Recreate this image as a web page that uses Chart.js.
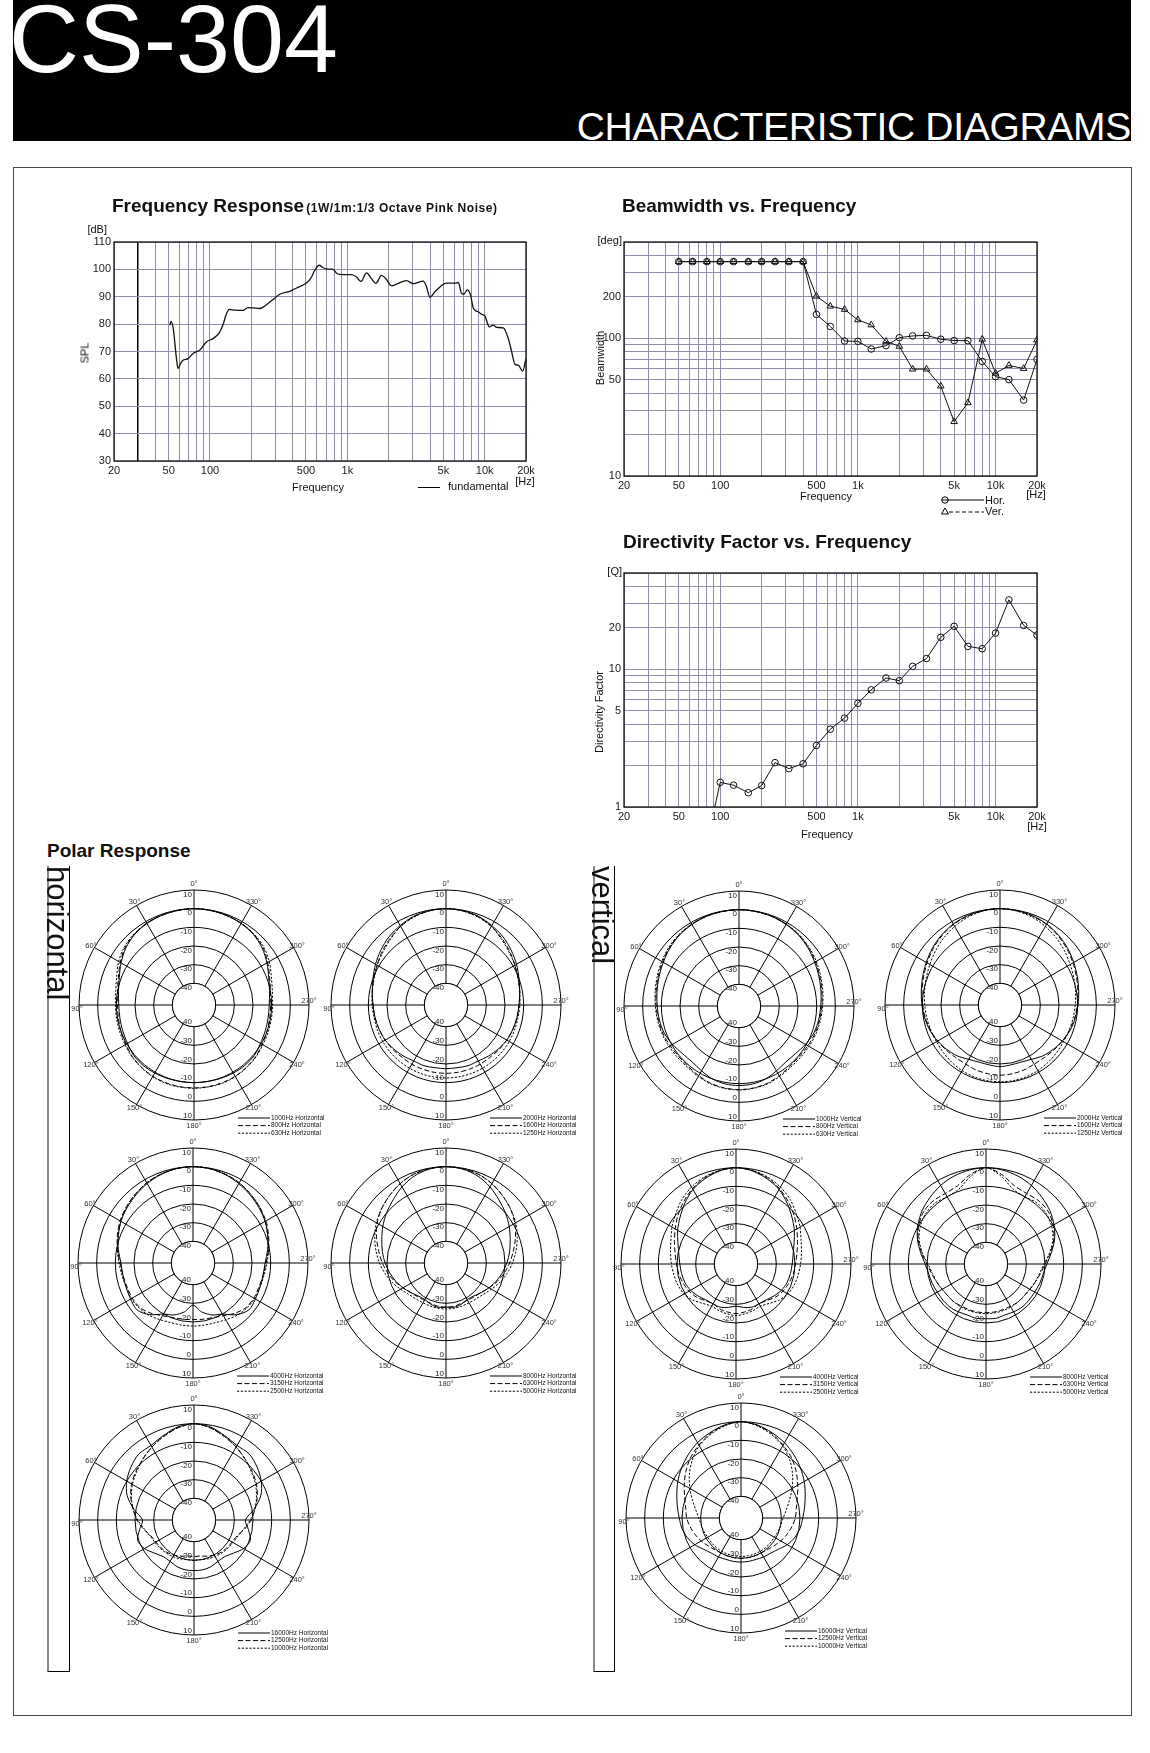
<!DOCTYPE html>
<html>
<head>
<meta charset="utf-8">
<title>CS-304 Characteristic Diagrams</title>
<script src="https://cdn.jsdelivr.net/npm/chart.js@4.4.1/dist/chart.umd.min.js"></script>
<style>
  html,body{margin:0;padding:0;background:#fff;}
  #page{position:relative;width:1150px;height:1753px;overflow:hidden;background:#fff;font-family:"Liberation Sans",Arial,Helvetica,sans-serif;color:#111;}
  #page canvas{position:absolute;}
  .t{position:absolute;white-space:nowrap;line-height:1;}
  #header{position:absolute;left:13px;top:0;width:1118px;height:141px;background:#000;overflow:hidden;}
  #frame{position:absolute;left:13px;top:167px;width:1119px;height:1549px;box-sizing:border-box;border:1.5px solid #4a4a4a;}
  .sidebox{position:absolute;box-sizing:border-box;border-left:2px solid #8a8a8a;border-right:1.3px solid #000;border-bottom:1.3px solid #000;}
</style>
</head>
<body>
<div id="page">
  <div id="header">
    <div class="t" style="left:-4px;top:-10px;font-size:97px;color:#fff;">CS-304</div>
    <div class="t" style="right:0px;top:107px;font-size:39px;color:#fff;letter-spacing:-0.3px;">CHARACTERISTIC DIAGRAMS</div>
  </div>
  <div id="frame"></div>
  <div class="sidebox" style="left:47px;top:866px;width:23px;height:806px;"></div>
  <div class="sidebox" style="left:593px;top:866px;width:22px;height:806px;"></div>
  <div style="position:absolute;left:418px;top:486.5px;width:22px;border-top:1.2px solid #000;"></div>
  <svg style="position:absolute;left:938px;top:494px;" width="50" height="24">
    <circle cx="7" cy="6" r="3.2" fill="none" stroke="#000" stroke-width="1"/>
    <line x1="3.8" y1="6" x2="46" y2="6" stroke="#000" stroke-width="1"/>
    <polygon points="7,14 10.5,20 3.5,20" fill="none" stroke="#000" stroke-width="1"/>
    <line x1="11" y1="18" x2="46" y2="18" stroke="#000" stroke-width="1" stroke-dasharray="4,2.5"/>
  </svg>
</div>
<script>
// ---------------- data ----------------
const FREQ_GRID = [20,30,40,50,60,70,80,90,100,200,300,400,500,600,700,800,900,1000,2000,3000,4000,5000,6000,7000,8000,9000,10000,20000];
const FREQ_LABEL_VALUES = [20,50,100,500,1000,5000,10000,20000];
const FREQ_LABEL_TEXTS = ['20','50','100','500','1k','5k','10k','20k'];
const SPL_TICKS = [30,40,50,60,70,80,90,100,110];
const BW_TICKS = [10,20,30,40,50,60,70,80,90,100,200,300,400,500];
const BW_LABEL_VALUES = [10,50,100,200];
const Q_TICKS = [1,2,3,4,5,6,7,8,9,10,20,30,40,50];
const Q_LABEL_VALUES = [1,5,10,20];

// Frequency response (fundamental)
const frFreq = [51,52,54,57,58.5,61,63.6,69.3,75.3,84.2,94.2,105,116,124,132,139,151,174,189,206,230,258,288,322,381,427,504,540,580,624,667,726,780,844,933,1074,1168,1256,1380,1500,1614,1774,1908,2099,2282,2698,3020,3572,3776,3991,4345,4727,5226,6080,6430,6800,7066,7474,7904,8260,8990,9510,10050,10810,11560,12220,13670,14860,15730,16630,17590,18920,20000];
const frSpl = [79.6,81,78.4,67.4,63.8,65.6,66.8,67.4,69.3,70.5,73.5,74.7,76.6,79.6,83.9,85.4,85.1,85,86,85.9,85.7,87.1,89,90.9,92,93.2,95,96.6,99.7,101.5,100.6,100.1,100.1,98.4,98.1,98.1,97.2,95.6,98.7,96.6,94.9,97.8,96.6,94,94.6,95.9,94.8,95.7,93.6,89.8,91.8,93.6,95,95,95.2,91.2,91,92.5,90.5,85.9,84.5,83.6,82.9,79,79.6,78.8,78.6,74.7,69.9,65.3,65,62.8,67.4];

// Beamwidth (deg)
const bwFreq = [50,63,80,100,125,160,200,250,315,400,500,630,800,1000,1250,1600,2000,2500,3150,4000,5000,6300,8000,10000,12500,16000,20000];
const bwHor = [360,360,360,360,360,360,360,360,360,360,149,122,95.5,95,83.6,88.4,101,104,105,98.4,96.2,96,67.9,52.7,50.1,35.6,70.2];
const bwVer = [360,360,360,360,360,360,360,360,360,360,202,171,162,136,125,95,87.4,59.7,59.7,45,24.8,34,98.4,55.7,63.5,60.3,97.2];

// Directivity factor Q
const dfFreq = [80,100,125,160,200,250,315,400,500,630,800,1000,1250,1600,2000,2500,3150,4000,5000,6300,8000,10000,12500,16000,20000];
const dfQ = [0.55,1.51,1.44,1.27,1.43,2.10,1.90,2.06,2.80,3.67,4.42,5.66,7.09,8.64,8.26,10.5,11.97,17.06,20.5,14.66,14.1,18.3,31.9,20.8,17.7];

// Polar response: dB at 0,10,...,350 degrees
const polarAngles = [0,10,20,30,40,50,60,70,80,90,100,110,120,130,140,150,160,170,180,190,200,210,220,230,240,250,260,270,280,290,300,310,320,330,340,350];
const RING_TICKS = [-40,-30,-20,-10,0,10];

const h1000 = [0,-0.2,-0.6,-1.2,-2.2,-4,-6.5,-9,-10.5,-11.3,-11.3,-11,-10.5,-9.5,-9.3,-9.5,-9.8,-10,-10,-10,-9.8,-9.5,-9.3,-9.5,-10.5,-11,-11.3,-11.3,-10.5,-9,-6.5,-4,-2.2,-1.2,-0.6,-0.2];
const h800  = [0,-0.2,-0.5,-1,-2,-3.5,-6,-8.5,-10,-10.5,-10.5,-10,-9.5,-8.5,-8,-7.5,-7.3,-7.2,-7.2,-7.2,-7.3,-7.5,-8,-8.5,-9.5,-10,-10.5,-10.5,-10,-8.5,-6,-3.5,-2,-1,-0.5,-0.2];
const h630  = [0,-0.2,-0.5,-1,-1.8,-3,-5,-7.5,-9,-9.5,-9.5,-9.3,-9,-8.3,-7.8,-7.3,-7,-7,-7,-7,-7,-7.3,-7.8,-8.3,-9,-9.3,-9.5,-9.5,-9,-7.5,-5,-3,-1.8,-1,-0.5,-0.2];
const h2000 = [0,-0.3,-1,-2.5,-4,-6,-8,-10,-11.5,-12.5,-13,-13.5,-14,-15,-16,-17,-17,-17.5,-17.5,-17.5,-17,-17,-16,-15,-14,-13.5,-13,-12.5,-11.5,-10,-8,-6,-4,-2.5,-1,-0.3];
const h1600 = [0,-0.4,-1.3,-3,-5,-7,-9,-10.5,-11.5,-12.5,-13,-13.5,-14,-14.5,-15,-15,-15,-15,-15,-15,-15,-15,-15,-14.5,-14,-13.5,-13,-12.5,-11.5,-10.5,-9,-7,-5,-3,-1.3,-0.4];
const h1250 = [0,-0.4,-1.5,-3,-5.5,-7.5,-9,-10.5,-11.5,-12,-12.5,-12.5,-12.5,-12.5,-12.5,-12.5,-12.5,-12.5,-12.5,-12.5,-12.5,-12.5,-12.5,-12.5,-12.5,-12.5,-12.5,-12,-11.5,-10.5,-9,-7.5,-5.5,-3,-1.5,-0.4];
const h4000 = [0,-0.3,-1.2,-2.5,-4,-5.5,-7,-9,-11,-13,-13.5,-13.5,-13,-12.5,-15.5,-20,-22,-25,-29,-25,-22,-20,-15.5,-12.5,-13,-13.5,-13.5,-13,-11,-9,-7,-5.5,-4,-2.5,-1.2,-0.3];
const h3150 = [0,-0.3,-1,-2,-3.5,-5,-6.5,-8.5,-10.5,-12.5,-13.5,-14,-14,-14.5,-16.5,-19,-20.5,-21,-21.3,-21,-20.5,-19,-16.5,-14.5,-14,-14,-13.5,-12.5,-10.5,-8.5,-6.5,-5,-3.5,-2,-1,-0.3];
const h2500 = [0,-0.3,-1,-2,-3.5,-5,-7,-9,-10.5,-12,-13,-13.5,-13.5,-14,-15,-16.5,-17.5,-17.8,-17.8,-17.8,-17.5,-16.5,-15,-14,-13.5,-13.5,-13,-12,-10.5,-9,-7,-5,-3.5,-2,-1,-0.3];
const h8000 = [0,-0.5,-2,-4.5,-7.5,-10,-12.5,-15,-17,-19,-21,-23,-25,-27,-28.5,-29,-28,-27.5,-28,-27.5,-28,-29,-28.5,-27,-25,-23,-21,-19,-17,-15,-12.5,-10,-7.5,-4.5,-2,-0.5];
const h6300 = [0,-0.3,-1,-2.5,-4.5,-6.5,-9,-12,-15,-17.5,-20,-22.5,-25,-27,-28,-28.5,-28.5,-28,-28,-28,-28.5,-28.5,-28,-27,-25,-22.5,-20,-17.5,-15,-12,-9,-6.5,-4.5,-2.5,-1,-0.3];
const h5000 = [0,-0.3,-1,-2.5,-4.5,-6.5,-8.5,-11,-13.5,-16,-18.5,-21,-23.5,-25.5,-26.5,-27,-27,-27,-27,-27,-27,-27,-26.5,-25.5,-23.5,-21,-18.5,-16,-13.5,-11,-8.5,-6.5,-4.5,-2.5,-1,-0.3];
const h16000 = [0,-1,-3.5,-5.5,-5.5,-7.5,-10,-13.5,-19,-24,-22,-19.5,-21,-24,-26,-26,-25,-24.5,-24.5,-24.5,-25,-26,-26,-24,-21,-19.5,-22,-24,-19,-13.5,-10,-7.5,-5.5,-5.5,-3.5,-1];
const h12500 = [0,-1.5,-4,-6.5,-9,-11,-13,-15.5,-18.5,-21,-24,-27,-28,-28.5,-29,-30,-31,-32,-32,-32,-31,-30,-29,-28.5,-28,-27,-24,-21,-18.5,-15.5,-13,-11,-9,-6.5,-4,-1.5];
const h10000 = [0,-1.5,-4,-6.5,-9,-11.5,-13.5,-16,-18.5,-21.5,-24.5,-26.5,-27.5,-28,-28.5,-29,-29.5,-30,-30,-30,-29.5,-29,-28.5,-28,-27.5,-26.5,-24.5,-21.5,-18.5,-16,-13.5,-11.5,-9,-6.5,-4,-1.5];

const v1000 = [0,-0.2,-0.5,-1.2,-2,-3.3,-4.8,-6,-7,-7.8,-8.3,-9,-10.5,-12,-12.5,-11.5,-10,-9.2,-9,-9.2,-10,-11.5,-12.5,-12,-10.5,-9,-8.3,-7.8,-7,-6,-4.8,-3.3,-2,-1.2,-0.5,-0.2];
const v800  = [0,-0.2,-0.5,-1,-1.8,-3,-4.3,-5.5,-6.5,-7.2,-7.8,-8.3,-9,-9.5,-9.3,-8.5,-7.5,-7,-6.8,-7,-7.5,-8.5,-9.3,-9.5,-9,-8.3,-7.8,-7.2,-6.5,-5.5,-4.3,-3,-1.8,-1,-0.5,-0.2];
const v630  = [0,-0.2,-0.4,-0.9,-1.6,-2.6,-3.8,-5,-6,-6.8,-7.3,-7.8,-8.3,-8.7,-8.7,-8,-7.2,-6.8,-6.6,-6.8,-7.2,-8,-8.7,-8.7,-8.3,-7.8,-7.3,-6.8,-6,-5,-3.8,-2.6,-1.6,-0.9,-0.4,-0.2];
const v2000 = [0,-0.2,-0.7,-1.5,-2.8,-4.3,-6,-7.5,-8.8,-9.8,-10.7,-11.7,-13,-14.5,-16,-18,-19,-19,-18.6,-19,-19,-18,-16,-14.5,-13,-11.7,-10.7,-9.8,-8.8,-7.5,-6,-4.3,-2.8,-1.5,-0.7,-0.2];
const v1600 = [0,-0.3,-0.9,-1.8,-3.2,-4.8,-6.5,-8,-9.2,-10.2,-11,-12,-13,-14,-14.8,-15,-14.5,-14.2,-14,-14.2,-14.5,-15,-14.8,-14,-13,-12,-11,-10.2,-9.2,-8,-6.5,-4.8,-3.2,-1.8,-0.9,-0.3];
const v1250 = [0,-0.5,-1.5,-3,-4.7,-6.5,-8.2,-9.5,-10.5,-11.3,-11.8,-12.2,-12.3,-12,-11.5,-11,-10.7,-10.5,-10.5,-10.5,-10.7,-11,-11.5,-12,-12.3,-12.2,-11.8,-11.3,-10.5,-9.5,-8.2,-6.5,-4.7,-3,-1.5,-0.5];
const v4000 = [0,-1,-3,-5.5,-9,-12.5,-15.5,-18.5,-20.5,-21.5,-22,-22.5,-23.5,-25,-26.5,-27,-27,-28,-29,-28,-27,-27,-26.5,-25,-23.5,-22.5,-22,-21.5,-20.5,-18.5,-15.5,-12.5,-9,-5.5,-3,-1];
const v3150 = [0,-0.8,-2.5,-5,-8,-11,-14,-16.5,-18.5,-19.7,-20.5,-21.5,-22.5,-24,-26,-27,-26,-25.5,-25,-25.5,-26,-27,-26,-24,-22.5,-21.5,-20.5,-19.7,-18.5,-16.5,-14,-11,-8,-5,-2.5,-0.8];
const v2500 = [0,-0.7,-2,-4,-6.5,-9.5,-12,-14.5,-16,-17,-17.8,-18.5,-19.5,-21.5,-24,-25.5,-25,-24.5,-24,-24.5,-25,-25.5,-24,-21.5,-19.5,-18.5,-17.8,-17,-16,-14.5,-12,-9.5,-6.5,-4,-2,-0.7];
const v8000 = [0,-0.5,-1.5,-3,-5,-7,-9.5,-12.5,-16,-19,-20.5,-21,-21.5,-21.5,-21.5,-22,-22.5,-22,-22.3,-22,-22.5,-22,-21.5,-21.5,-21.5,-21,-20.5,-19,-16,-12.5,-9.5,-7,-5,-3,-1.5,-0.5];
const v6300 = [0,-3,-7,-8,-7.5,-8,-10,-13,-16.5,-20,-22,-23.5,-24.5,-25,-25,-25.5,-25.5,-25.5,-25.5,-25.5,-25.5,-25.5,-25,-25,-24.5,-23.5,-22,-20,-16.5,-13,-10,-8,-7.5,-8,-7,-3];
const v5000 = [0,-4,-9,-10,-9,-9.5,-11,-13.5,-17,-20.5,-22.5,-23.5,-24.5,-25,-25,-25,-25,-25,-25,-25,-25,-25,-25,-25,-24.5,-23.5,-22.5,-20.5,-17,-13.5,-11,-9.5,-9,-10,-9,-4];
const v16000 = [0,-1,-3,-5,-7.5,-10,-12.5,-15,-17,-18.5,-19.5,-21,-23,-25.5,-27,-27.5,-28,-28,-28,-28,-28,-27.5,-27,-25.5,-23,-21,-19.5,-18.5,-17,-15,-12.5,-10,-7.5,-5,-3,-1];
const v12500 = [0,-1.2,-3.5,-6.5,-9.5,-13,-16.5,-19.5,-21.5,-22.5,-24,-25.5,-27,-28.5,-29.5,-30,-30,-30,-30,-30,-30,-30,-29.5,-28.5,-27,-25.5,-24,-22.5,-21.5,-19.5,-16.5,-13,-9.5,-6.5,-3.5,-1.2];
const v10000 = [0,-1.5,-4,-7,-11,-15.5,-20,-24,-27,-29,-30,-30.5,-31,-31,-31,-31,-31,-31,-31,-31,-31,-31,-31,-31,-31,-30.5,-30,-29,-27,-24,-20,-15.5,-11,-7,-4,-1.5];

const POLAR_PLOTS = [
  {cx:194, cy:1005, series:[h1000,h800,h630],   names:['1000Hz Horizontal','800Hz Horizontal','630Hz Horizontal']},
  {cx:446, cy:1005, series:[h2000,h1600,h1250], names:['2000Hz Horizontal','1600Hz Horizontal','1250Hz Horizontal']},
  {cx:739, cy:1006, series:[v1000,v800,v630],   names:['1000Hz Vertical','800Hz Vertical','630Hz Vertical']},
  {cx:1000, cy:1005, series:[v2000,v1600,v1250], names:['2000Hz Vertical','1600Hz Vertical','1250Hz Vertical']},
  {cx:193, cy:1263, series:[h4000,h3150,h2500], names:['4000Hz Horizontal','3150Hz Horizontal','2500Hz Horizontal']},
  {cx:446, cy:1263, series:[h8000,h6300,h5000], names:['8000Hz Horizontal','6300Hz Horizontal','5000Hz Horizontal']},
  {cx:736, cy:1264, series:[v4000,v3150,v2500], names:['4000Hz Vertical','3150Hz Vertical','2500Hz Vertical']},
  {cx:986, cy:1264, series:[v8000,v6300,v5000], names:['8000Hz Vertical','6300Hz Vertical','5000Hz Vertical']},
  {cx:194, cy:1520, series:[h16000,h12500,h10000], names:['16000Hz Horizontal','12500Hz Horizontal','10000Hz Horizontal']},
  {cx:741, cy:1518, series:[v16000,v12500,v10000], names:['16000Hz Vertical','12500Hz Vertical','10000Hz Vertical']}
];

// ---------------- helpers ----------------
const GRID = '#8e8ea4';
const FONT = '"Liberation Sans", Arial, Helvetica, sans-serif';
const DASHES = [[], [5, 2.5], [2.2, 1.6]];
Chart.defaults.font.family = FONT;
Chart.defaults.color = '#1a1a1a';

const page = document.getElementById('page');
function makeCanvas(left, top, w, h) {
  const c = document.createElement('canvas');
  c.width = w; c.height = h;
  c.style.left = left + 'px'; c.style.top = top + 'px';
  c.style.width = w + 'px'; c.style.height = h + 'px';
  page.appendChild(c);
  return c;
}
function addText(str, x, y, o) {
  o = o || {};
  const size = o.size || 11;
  const el = document.createElement('div');
  el.className = 't';
  el.textContent = str;
  el.style.fontSize = size + 'px';
  if (o.bold) el.style.fontWeight = 'bold';
  if (o.spacing) el.style.letterSpacing = o.spacing + 'px';
  el.style.color = o.color || '#111';
  el.style.left = x + 'px';
  let tf = '';
  if (o.rotate) {
    el.style.top = y + 'px';
    tf = 'translate(-50%,-50%) rotate(' + o.rotate + 'deg)';
  } else {
    el.style.top = (y - 0.8465 * size) + 'px';
    if (o.align === 'center') tf = 'translateX(-50%)';
    else if (o.align === 'right') tf = 'translateX(-100%)';
  }
  if (tf) el.style.transform = tf;
  page.appendChild(el);
  return el;
}
function listTicks(list) { return s => { s.ticks = list.map(v => ({value: v})); }; }
function freqLabel(v) { const k = FREQ_LABEL_VALUES.indexOf(v); return k >= 0 ? FREQ_LABEL_TEXTS[k] : ''; }

const frameBorder = {
  id: 'frameBorder',
  afterDraw(chart) {
    const a = chart.chartArea, ctx = chart.ctx;
    ctx.save();
    ctx.strokeStyle = '#111'; ctx.lineWidth = 1.3;
    ctx.strokeRect(a.left, a.top, a.right - a.left, a.bottom - a.top);
    ctx.restore();
  }
};

function freqAxis(height, gridColor, gridWidth) {
  return {
    type: 'logarithmic', min: 20, max: 20000,
    afterBuildTicks: listTicks(FREQ_GRID),
    afterFit: s => { s.height = height; },
    ticks: {autoSkip: false, maxRotation: 0, minRotation: 0, padding: 3.5, font: {size: 11}, color: '#1a1a1a', callback: v => freqLabel(v)},
    grid: {color: gridColor || GRID, lineWidth: gridWidth || 1, drawTicks: false},
    border: {display: false}
  };
}
function baseOptions(padding) {
  return {
    devicePixelRatio: 1, animation: false, responsive: false, events: [],
    layout: {padding: padding},
    plugins: {legend: {display: false}, tooltip: {enabled: false}}
  };
}

// ---------------- Frequency Response ----------------
(function () {
  const opts = baseOptions({left: 0, top: 42, right: 24, bottom: 0});
  opts.scales = {
    x: freqAxis(39, c => (c.tick && c.tick.value === 30) ? '#000' : GRID, c => (c.tick && c.tick.value === 30) ? 1.5 : 1),
    y: {type: 'linear', min: 30, max: 110, afterBuildTicks: listTicks(SPL_TICKS), afterFit: s => { s.width = 54; },
        ticks: {padding: 3, font: {size: 11}, color: '#1a1a1a'}, grid: {color: GRID, drawTicks: false}, border: {display: false}}
  };
  new Chart(makeCanvas(60, 200, 490, 300), {
    type: 'line',
    data: {datasets: [{data: frFreq.map((f, i) => ({x: f, y: frSpl[i]})), borderColor: '#111', borderWidth: 1.3,
      pointRadius: 0, cubicInterpolationMode: 'monotone', fill: false}]},
    options: opts,
    plugins: [frameBorder]
  });
})();

// ---------------- Beamwidth ----------------
(function () {
  const opts = baseOptions({left: 0, top: 42, right: 23, bottom: 0});
  opts.scales = {
    x: freqAxis(44),
    y: {type: 'logarithmic', min: 10, max: 500, afterBuildTicks: listTicks(BW_TICKS), afterFit: s => { s.width = 54; },
        ticks: {autoSkip: false, padding: 3, font: {size: 11}, color: '#1a1a1a', callback: v => BW_LABEL_VALUES.indexOf(v) >= 0 ? String(v) : ''},
        grid: {color: GRID, drawTicks: false}, border: {display: false}}
  };
  new Chart(makeCanvas(570, 200, 490, 320), {
    type: 'line',
    data: {datasets: [
      {label: 'Hor.', data: bwFreq.map((f, i) => ({x: f, y: bwHor[i]})), borderColor: '#111', borderWidth: 1,
        pointStyle: 'circle', pointRadius: 3.3, pointBorderWidth: 1, pointBorderColor: '#111', pointBackgroundColor: 'rgba(255,255,255,0)', tension: 0},
      {label: 'Ver.', data: bwFreq.map((f, i) => ({x: f, y: bwVer[i]})), borderColor: '#111', borderWidth: 1,
        pointStyle: 'triangle', pointRadius: 3.8, pointBorderWidth: 1, pointBorderColor: '#111', pointBackgroundColor: 'rgba(255,255,255,0)', tension: 0}
    ]},
    options: opts,
    plugins: [frameBorder]
  });
})();

// ---------------- Directivity Factor ----------------
(function () {
  const opts = baseOptions({left: 0, top: 43, right: 23, bottom: 0});
  opts.scales = {
    x: freqAxis(43),
    y: {type: 'logarithmic', min: 1, max: 50, afterBuildTicks: listTicks(Q_TICKS), afterFit: s => { s.width = 54; },
        ticks: {autoSkip: false, padding: 3, font: {size: 11}, color: '#1a1a1a', callback: v => Q_LABEL_VALUES.indexOf(v) >= 0 ? String(v) : ''},
        grid: {color: GRID, drawTicks: false}, border: {display: false}}
  };
  new Chart(makeCanvas(570, 530, 490, 320), {
    type: 'line',
    data: {datasets: [
      {label: 'Q', data: dfFreq.map((f, i) => ({x: f, y: dfQ[i]})), borderColor: '#111', borderWidth: 1,
        pointStyle: 'circle', pointRadius: 3.3, pointBorderWidth: 1, pointBorderColor: '#111', pointBackgroundColor: 'rgba(255,255,255,0)', tension: 0}
    ]},
    options: opts,
    plugins: [frameBorder]
  });
})();

// ---------------- Polar plots ----------------
const polarDecor = {
  id: 'polarDecor',
  beforeDatasetsDraw(chart) {
    const s = chart.scales.r, ctx = chart.ctx;
    const r0 = s.getDistanceFromCenterForValue(-40);
    ctx.save();
    ctx.beginPath(); ctx.arc(s.xCenter, s.yCenter, r0, 0, Math.PI * 2);
    ctx.fillStyle = '#fff'; ctx.fill();
    ctx.lineWidth = 1; ctx.strokeStyle = '#000'; ctx.stroke();
    ctx.restore();
  },
  afterDraw(chart, args, o) {
    const s = chart.scales.r, ctx = chart.ctx;
    ctx.save();
    ctx.fillStyle = '#222';
    ctx.font = '8px ' + FONT;
    ctx.textAlign = 'right'; ctx.textBaseline = 'middle';
    RING_TICKS.forEach(v => {
      const d = s.getDistanceFromCenterForValue(v);
      ctx.fillText(String(v), s.xCenter - 2, s.yCenter - d + 4.5);
      ctx.fillText(String(v), s.xCenter - 2, s.yCenter + d - 4.5);
    });
    ctx.font = '7.5px ' + FONT;
    ctx.fillStyle = '#333';
    ctx.textAlign = 'center';
    for (let i = 0; i < chart.data.labels.length; i += 3) {
      let off = 4, dy = 0;
      if (i === 0 || i === 18) off = 6;
      if (i === 27) { off = 2; dy = 3.5; }
      if (i === 9) { off = 0; dy = -4; }
      const p = s.getPointPosition(i, s.drawingArea + off);
      ctx.fillText(chart.data.labels[i], p.x, p.y + dy);
    }
    const lx = s.xCenter + 44, ly = s.yCenter + 113;
    ctx.strokeStyle = '#000'; ctx.lineWidth = 1;
    ctx.font = '6.5px ' + FONT; ctx.fillStyle = '#111'; ctx.textAlign = 'left';
    o.names.forEach((name, k) => {
      const y = ly + k * 7.6;
      ctx.beginPath(); ctx.setLineDash(DASHES[k]);
      ctx.moveTo(lx, y); ctx.lineTo(lx + 32, y); ctx.stroke();
      ctx.setLineDash([]);
      ctx.fillText(name, lx + 33, y);
    });
    ctx.restore();
  }
};

POLAR_PLOTS.forEach(pp => {
  const labels = polarAngles.map((a, i) => polarAngles[(36 - i) % 36] + '\u00b0');
  const datasets = pp.series.map((arr, k) => ({
    label: pp.names[k],
    data: polarAngles.map((a, i) => arr[(36 - i) % 36]),
    borderColor: '#000', borderWidth: 1, borderDash: DASHES[k], backgroundColor: 'rgba(0,0,0,0)',
    fill: false, pointRadius: 0, tension: 0.3
  }));
  const opts = baseOptions({left: 15, top: 15, right: 55, bottom: 25});
  opts.plugins.polarDecor = {names: pp.names};
  opts.scales = {
    r: {
      min: -51.6, max: 10,
      afterBuildTicks: listTicks(RING_TICKS),
      ticks: {display: false},
      pointLabels: {display: false},
      grid: {circular: true, color: '#000', lineWidth: 1},
      angleLines: {display: true, color: c => c.index % 3 === 0 ? '#000' : 'rgba(0,0,0,0)', lineWidth: c => c.index % 3 === 0 ? 1 : 0}
    }
  };
  new Chart(makeCanvas(pp.cx - 130, pp.cy - 130, 300, 270), {
    type: 'radar',
    data: {labels: labels, datasets: datasets},
    options: opts,
    plugins: [polarDecor]
  });
});

// ---------------- texts ----------------
(function () {
  const t = addText('Frequency Response', 112, 212.5, {size: 19, bold: true});
  const sub = document.createElement('span');
  sub.textContent = '(1W/1m:1/3 Octave Pink Noise)';
  sub.style.fontSize = '12px'; sub.style.letterSpacing = '0.55px'; sub.style.marginLeft = '2px';
  t.appendChild(sub);
})();
addText('[dB]', 107, 233, {size: 11, align: 'right'});
addText('SPL', 85, 353, {size: 11, rotate: -90});
addText('Frequency', 318, 491, {size: 11, align: 'center'});
addText('fundamental', 448, 490.5, {size: 11});
addText('[Hz]', 525, 485, {size: 11, align: 'center'});

addText('Beamwidth vs. Frequency', 622, 211.7, {size: 19, bold: true});
addText('[deg]', 622, 244, {size: 11, align: 'right'});
addText('Beamwidth', 600, 358, {size: 11, rotate: -90});
addText('Frequency', 826, 500, {size: 11, align: 'center'});
addText('[Hz]', 1036, 498, {size: 11, align: 'center'});
addText('Hor.', 985, 504, {size: 11});
addText('Ver.', 985, 515.5, {size: 11});

addText('Directivity Factor vs. Frequency', 623, 548.3, {size: 19, bold: true});
addText('[Q]', 622, 575, {size: 11, align: 'right'});
addText('Directivity Factor', 599, 712, {size: 11, rotate: -90});
addText('Frequency', 827, 838, {size: 11, align: 'center'});
addText('[Hz]', 1037, 830, {size: 11, align: 'center'});

addText('Polar Response', 47, 857, {size: 19, bold: true});

(function () {
  const mk = (str, x, y, size) => {
    const el = document.createElement('div');
    el.className = 't';
    el.textContent = str;
    el.style.fontSize = size + 'px';
    el.style.left = x + 'px'; el.style.top = y + 'px';
    el.style.transformOrigin = '0 0';
    el.style.transform = 'rotate(90deg)';
    page.appendChild(el);
  };
  mk('horizontal', 73, 866, 31);
  mk('vertical', 618, 866, 31);
})();
</script>
</body>
</html>
